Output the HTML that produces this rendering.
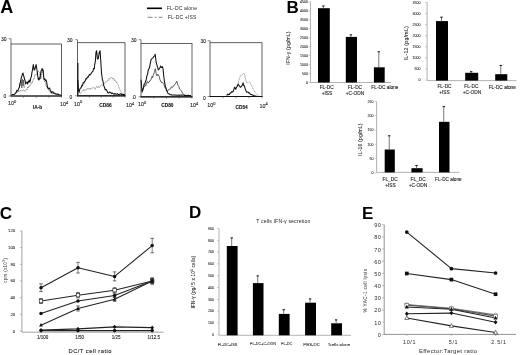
<!DOCTYPE html>
<html><head><meta charset="utf-8"><style>
html,body{margin:0;padding:0;background:#fff;overflow:hidden;width:520px;height:355px;}
svg{display:block;font-family:"Liberation Sans",sans-serif;filter:blur(0.3px);}
</style></head><body>
<svg width="520" height="355" viewBox="0 0 520 355">
<rect width="520" height="355" fill="#fff"/>
<text x="0.30" y="12.60" font-size="18" text-anchor="start" font-weight="bold" fill="#000" >A</text>
<text x="286.60" y="12.50" font-size="17" text-anchor="start" font-weight="bold" fill="#000" >B</text>
<text x="-0.20" y="218.60" font-size="17" text-anchor="start" font-weight="bold" fill="#000" >C</text>
<text x="189.00" y="218.30" font-size="17" text-anchor="start" font-weight="bold" fill="#000" >D</text>
<text x="362.00" y="218.80" font-size="17" text-anchor="start" font-weight="bold" fill="#000" >E</text>
<line x1="147.00" y1="8.30" x2="162.00" y2="8.30" stroke="#000" stroke-width="1.6" />
<text x="166.80" y="9.60" font-size="5.1" text-anchor="start" font-weight="normal" fill="#2a2a2a" letter-spacing="0.15">FL-DC alone</text>
<line x1="147.60" y1="17.30" x2="162.50" y2="17.30" stroke="#666" stroke-width="0.8" stroke-dasharray="5,2,2,2"/>
<text x="167.80" y="19.00" font-size="5.1" text-anchor="start" font-weight="normal" fill="#2a2a2a" letter-spacing="0.1">FL-DC +ISS</text>
<rect x="11" y="44" width="50.5" height="52" fill="none" stroke="#3a3a3a" stroke-width="0.8"/>
<line x1="10.50" y1="96.00" x2="62.00" y2="96.00" stroke="#111" stroke-width="1.2" />
<line x1="11.00" y1="38.70" x2="11.00" y2="44.00" stroke="#444" stroke-width="0.7" />
<line x1="8.50" y1="38.70" x2="11.00" y2="38.70" stroke="#444" stroke-width="0.6" />
<line x1="8.50" y1="96.00" x2="11.00" y2="96.00" stroke="#444" stroke-width="0.6" />
<line x1="23.62" y1="96.00" x2="23.62" y2="97.80" stroke="#444" stroke-width="0.6" />
<line x1="36.25" y1="96.00" x2="36.25" y2="97.80" stroke="#444" stroke-width="0.6" />
<line x1="48.88" y1="96.00" x2="48.88" y2="97.80" stroke="#444" stroke-width="0.6" />
<line x1="61.50" y1="96.00" x2="61.50" y2="97.80" stroke="#444" stroke-width="0.6" />
<text x="1.00" y="41.00" font-size="5" text-anchor="start" font-weight="normal" fill="#111"  stroke="#111" stroke-width="0.08">30</text>
<text x="3.50" y="98.00" font-size="5" text-anchor="start" font-weight="normal" fill="#111"  stroke="#111" stroke-width="0.08">0</text>
<text x="8" y="105" font-size="5.4" fill="#111" stroke="#111" stroke-width="0.08">10<tspan dy="-2.4" font-size="4">0</tspan></text>
<text x="60" y="106" font-size="5.4" fill="#111" stroke="#111" stroke-width="0.08">10<tspan dy="-2.4" font-size="4">4</tspan></text>
<text x="37.50" y="108.60" font-size="4.8" text-anchor="middle" font-weight="bold" fill="#111"  stroke="#111" stroke-width="0.08">IA-b</text>
<rect x="77.5" y="42.7" width="47.5" height="53.099999999999994" fill="none" stroke="#3a3a3a" stroke-width="0.8"/>
<line x1="77.00" y1="95.80" x2="125.50" y2="95.80" stroke="#111" stroke-width="1.2" />
<line x1="77.50" y1="39.70" x2="77.50" y2="42.70" stroke="#444" stroke-width="0.7" />
<line x1="75.00" y1="39.70" x2="77.50" y2="39.70" stroke="#444" stroke-width="0.6" />
<line x1="75.00" y1="95.80" x2="77.50" y2="95.80" stroke="#444" stroke-width="0.6" />
<line x1="89.38" y1="95.80" x2="89.38" y2="97.60" stroke="#444" stroke-width="0.6" />
<line x1="101.25" y1="95.80" x2="101.25" y2="97.60" stroke="#444" stroke-width="0.6" />
<line x1="113.12" y1="95.80" x2="113.12" y2="97.60" stroke="#444" stroke-width="0.6" />
<line x1="125.00" y1="95.80" x2="125.00" y2="97.60" stroke="#444" stroke-width="0.6" />
<text x="67.00" y="42.00" font-size="5" text-anchor="start" font-weight="normal" fill="#111"  stroke="#111" stroke-width="0.08">30</text>
<text x="69.50" y="98.70" font-size="5" text-anchor="start" font-weight="normal" fill="#111"  stroke="#111" stroke-width="0.08">0</text>
<text x="74" y="105.6" font-size="5.4" fill="#111" stroke="#111" stroke-width="0.08">10<tspan dy="-2.4" font-size="4">0</tspan></text>
<text x="126" y="107" font-size="5.4" fill="#111" stroke="#111" stroke-width="0.08">10<tspan dy="-2.4" font-size="4">4</tspan></text>
<text x="105.50" y="107.40" font-size="4.8" text-anchor="middle" font-weight="bold" fill="#111"  stroke="#111" stroke-width="0.08">CD86</text>
<rect x="141" y="43.5" width="51" height="53.3" fill="none" stroke="#3a3a3a" stroke-width="0.8"/>
<line x1="140.50" y1="96.80" x2="192.50" y2="96.80" stroke="#111" stroke-width="1.2" />
<line x1="141.00" y1="39.70" x2="141.00" y2="43.50" stroke="#444" stroke-width="0.7" />
<line x1="138.50" y1="39.70" x2="141.00" y2="39.70" stroke="#444" stroke-width="0.6" />
<line x1="138.50" y1="96.80" x2="141.00" y2="96.80" stroke="#444" stroke-width="0.6" />
<line x1="153.75" y1="96.80" x2="153.75" y2="98.60" stroke="#444" stroke-width="0.6" />
<line x1="166.50" y1="96.80" x2="166.50" y2="98.60" stroke="#444" stroke-width="0.6" />
<line x1="179.25" y1="96.80" x2="179.25" y2="98.60" stroke="#444" stroke-width="0.6" />
<line x1="192.00" y1="96.80" x2="192.00" y2="98.60" stroke="#444" stroke-width="0.6" />
<text x="131.00" y="42.00" font-size="5" text-anchor="start" font-weight="normal" fill="#111"  stroke="#111" stroke-width="0.08">30</text>
<text x="133.00" y="99.00" font-size="5" text-anchor="start" font-weight="normal" fill="#111"  stroke="#111" stroke-width="0.08">0</text>
<text x="138" y="106.3" font-size="5.4" fill="#111" stroke="#111" stroke-width="0.08">10<tspan dy="-2.4" font-size="4">0</tspan></text>
<text x="190" y="107.4" font-size="5.4" fill="#111" stroke="#111" stroke-width="0.08">10<tspan dy="-2.4" font-size="4">4</tspan></text>
<text x="167.40" y="107.40" font-size="4.8" text-anchor="middle" font-weight="bold" fill="#111"  stroke="#111" stroke-width="0.08">CD80</text>
<rect x="210" y="42.7" width="52" height="53.8" fill="none" stroke="#3a3a3a" stroke-width="0.8"/>
<line x1="209.50" y1="96.50" x2="262.50" y2="96.50" stroke="#111" stroke-width="1.2" />
<line x1="210.00" y1="40.70" x2="210.00" y2="42.70" stroke="#444" stroke-width="0.7" />
<line x1="207.50" y1="40.70" x2="210.00" y2="40.70" stroke="#444" stroke-width="0.6" />
<line x1="207.50" y1="96.50" x2="210.00" y2="96.50" stroke="#444" stroke-width="0.6" />
<line x1="223.00" y1="96.50" x2="223.00" y2="98.30" stroke="#444" stroke-width="0.6" />
<line x1="236.00" y1="96.50" x2="236.00" y2="98.30" stroke="#444" stroke-width="0.6" />
<line x1="249.00" y1="96.50" x2="249.00" y2="98.30" stroke="#444" stroke-width="0.6" />
<line x1="262.00" y1="96.50" x2="262.00" y2="98.30" stroke="#444" stroke-width="0.6" />
<text x="200.50" y="43.00" font-size="5" text-anchor="start" font-weight="normal" fill="#111"  stroke="#111" stroke-width="0.08">30</text>
<text x="203.00" y="99.70" font-size="5" text-anchor="start" font-weight="normal" fill="#111"  stroke="#111" stroke-width="0.08">0</text>
<text x="207.2" y="107.1" font-size="5.4" fill="#111" stroke="#111" stroke-width="0.08">10<tspan dy="-2.4" font-size="4">0</tspan></text>
<text x="259.6" y="107.8" font-size="5.4" fill="#111" stroke="#111" stroke-width="0.08">10<tspan dy="-2.4" font-size="4">4</tspan></text>
<text x="241.60" y="108.60" font-size="4.8" text-anchor="middle" font-weight="bold" fill="#111"  stroke="#111" stroke-width="0.08">CD54</text>
<polyline points="13.00,94.80 13.50,94.50 14.00,94.18 14.50,94.31 15.00,94.00 15.57,93.19 16.15,93.24 16.73,92.63 17.30,92.40 17.82,91.55 18.33,92.05 18.85,91.08 19.37,91.55 19.88,90.71 20.40,91.30 20.92,90.24 21.45,90.64 21.98,91.26 22.50,90.30 23.02,89.59 23.55,89.95 24.08,90.95 24.60,90.80 25.12,91.40 25.65,90.19 26.18,89.35 26.70,89.20 27.20,89.64 27.70,86.71 28.20,87.10 28.73,87.63 29.27,85.93 29.80,86.10 30.33,84.55 30.87,83.78 31.40,84.00 31.90,82.51 32.40,82.69 32.90,80.90 33.43,79.07 33.97,78.96 34.50,77.70 35.00,74.50 35.53,74.83 36.07,74.19 36.60,74.50 37.15,73.51 37.70,71.25 38.25,71.20 38.80,71.24 39.35,72.69 39.90,74.50 40.45,77.13 41.00,78.90 41.55,74.33 42.10,70.10 42.65,71.85 43.20,74.50 43.75,78.01 44.30,81.10 44.87,82.09 45.43,82.82 46.00,84.40 46.53,86.57 47.07,87.81 47.60,88.80 48.15,88.92 48.70,90.44 49.25,91.00 49.80,91.61 50.35,92.71 50.90,92.70 51.45,93.17 52.00,92.82 52.55,93.78 53.10,93.04 53.65,93.54 54.20,93.80 54.75,94.15 55.30,93.81 55.85,94.20 56.40,94.05 56.95,94.59 57.50,94.77 58.05,94.80 58.60,94.90 59.20,95.13 59.80,94.98 60.40,95.19 61.00,95.20" fill="none" stroke="#666" stroke-width="0.8" stroke-linejoin="round" stroke-dasharray="1.2,0.6"/>
<polyline points="11.50,94.60 12.00,94.63 12.50,94.57 13.00,94.41 13.50,94.40 14.07,94.46 14.63,94.34 15.20,93.40 15.72,92.70 16.25,92.48 16.77,90.25 17.30,90.80 17.80,90.66 18.30,89.60 18.80,88.20 19.35,87.38 19.90,83.00 20.40,82.56 20.90,79.80 21.45,76.97 22.00,75.70 22.50,73.94 23.00,73.00 23.50,75.46 24.00,76.70 24.60,79.80 25.10,80.18 25.60,84.00 26.15,83.06 26.70,82.40 27.20,82.00 27.70,84.00 28.20,81.57 28.70,81.90 29.23,79.98 29.77,82.20 30.30,80.90 30.85,77.47 31.40,76.70 31.90,72.64 32.40,70.40 33.30,64.60 34.20,70.10 35.00,69.00 35.55,66.41 36.10,64.60 36.80,69.00 37.70,75.60 38.25,79.14 38.80,80.00 39.35,77.94 39.90,78.90 40.45,74.87 41.00,71.20 41.55,70.03 42.10,68.50 42.65,70.68 43.20,70.10 43.75,77.80 44.33,79.50 44.90,78.90 45.45,80.76 46.00,80.00 46.50,81.40 47.00,84.40 47.60,87.70 48.15,87.95 48.70,88.80 49.25,88.04 49.80,88.30 50.35,91.03 50.90,91.00 51.45,92.77 52.00,92.10 52.57,91.73 53.13,92.22 53.70,93.20 54.23,92.98 54.77,93.22 55.30,93.80 55.85,93.91 56.40,94.15 56.95,93.92 57.50,94.30 58.05,93.99 58.60,94.53 59.15,94.65 59.70,94.90 60.35,95.09 61.00,95.20" fill="none" stroke="#111" stroke-width="1.05" stroke-linejoin="round" />
<polyline points="20.50,86.00 21.20,80.00 21.80,88.00 22.40,79.00 23.00,86.00 23.60,80.00 24.20,88.00" fill="none" stroke="#333" stroke-width="0.6" stroke-linejoin="round" />
<line x1="77.80" y1="63.00" x2="77.80" y2="95.50" stroke="#222" stroke-width="1.4" />
<polyline points="79.80,93.60 80.34,93.59 80.88,92.79 81.42,92.00 81.96,91.65 82.50,90.90 83.06,91.00 83.62,89.33 84.18,91.01 84.74,90.45 85.30,89.50 85.86,90.26 86.42,89.93 86.98,88.82 87.54,88.70 88.10,88.80 88.64,87.99 89.18,89.40 89.72,88.17 90.26,88.32 90.80,89.50 91.33,88.45 91.85,87.99 92.38,88.07 92.90,88.10 93.43,87.38 93.95,87.60 94.47,88.31 95.00,89.50 95.53,87.84 96.05,87.77 96.57,86.26 97.10,86.70 97.60,87.77 98.10,87.32 98.60,86.38 99.10,87.40 99.64,86.37 100.18,86.15 100.72,85.75 101.26,84.73 101.80,85.20 102.34,85.76 102.88,85.82 103.42,84.28 103.96,84.04 104.50,83.80 105.06,82.27 105.62,81.77 106.18,81.80 106.74,81.08 107.30,81.10 107.80,81.36 108.30,79.24 108.80,78.38 109.30,79.00 110.00,79.38 110.70,77.60 111.22,78.02 111.75,77.45 112.28,78.75 112.80,79.00 113.30,78.04 113.80,79.42 114.30,80.67 114.80,79.70 115.50,81.27 116.20,81.10 116.90,82.92 117.60,83.80 118.30,85.33 119.00,88.00 119.65,89.03 120.30,90.70 121.00,91.58 121.70,93.50 122.22,93.91 122.75,93.83 123.28,94.18 123.80,94.10 124.40,94.34 125.00,94.80" fill="none" stroke="#777" stroke-width="0.8" stroke-linejoin="round" stroke-dasharray="1.2,0.6"/>
<polyline points="77.80,80.00 78.40,89.50 79.10,92.30 79.80,89.24 80.50,88.10 81.15,87.82 81.80,85.30 82.50,85.70 83.20,82.60 83.90,83.17 84.60,81.20 85.30,80.90 86.00,78.40 86.70,78.85 87.40,77.00 88.10,77.21 88.80,75.70 89.45,74.37 90.10,75.00 90.80,74.01 91.50,72.90 92.20,71.68 92.90,71.50 93.60,68.40 94.30,68.70 94.80,63.55 95.30,61.80 96.00,52.10 96.60,50.80 97.50,59.10 98.40,58.40 98.90,54.46 99.40,52.10 100.10,50.80 100.70,60.00 101.50,72.80 102.40,79.70 102.90,80.88 103.40,83.80 103.95,86.24 104.50,87.30 105.20,89.94 105.90,89.30 106.60,90.17 107.30,91.40 107.80,92.74 108.30,92.99 108.80,93.04 109.30,92.10 109.83,92.16 110.35,92.26 110.88,92.68 111.40,93.50 111.96,93.05 112.52,93.06 113.08,93.69 113.64,94.10 114.20,93.50 114.74,94.11 115.28,93.71 115.82,94.06 116.36,94.34 116.90,94.10 117.41,93.63 117.93,94.28 118.44,94.57 118.95,94.42 119.46,94.39 119.97,94.07 120.49,93.73 121.00,94.10 121.50,94.50 122.00,94.10 122.50,94.66 123.00,94.89 123.50,94.45 124.00,94.54 124.50,95.06 125.00,94.80" fill="none" stroke="#111" stroke-width="1.05" stroke-linejoin="round" />
<polyline points="142.80,89.30 143.30,89.16 143.80,87.16 144.30,86.38 144.80,86.60 145.33,84.71 145.85,85.47 146.38,84.19 146.90,82.40 147.43,81.38 147.95,82.83 148.47,83.03 149.00,81.70 149.50,81.58 150.00,80.34 150.50,80.32 151.00,79.70 151.53,77.76 152.05,76.43 152.57,77.68 153.10,75.50 153.80,73.81 154.50,71.40 155.40,68.70 155.95,72.16 156.50,75.50 157.20,75.89 157.90,74.20 158.60,75.39 159.30,76.90 160.00,79.89 160.70,81.10 161.35,82.53 162.00,82.40 162.70,82.41 163.40,83.80 163.97,84.64 164.53,86.17 165.10,88.10 165.80,88.18 166.50,89.50 167.15,90.40 167.80,90.90 168.50,89.64 169.20,89.50 169.90,88.96 170.60,88.80 171.30,86.86 172.00,86.70 172.70,87.33 173.40,86.00 174.10,85.00 174.80,84.70 175.45,83.55 176.10,82.60 176.80,81.20 177.50,84.00 178.20,85.55 178.90,86.70 179.60,89.07 180.30,89.50 181.00,90.38 181.70,91.60 182.40,93.17 183.10,93.60 183.75,94.30 184.40,95.00" fill="none" stroke="#333" stroke-width="0.8" stroke-linejoin="round" />
<polyline points="141.00,79.70 141.55,86.01 142.10,92.10 142.75,90.13 143.40,88.00 144.10,84.17 144.80,83.80 145.50,81.53 146.20,79.70 146.90,75.81 147.60,74.20 148.30,69.66 149.00,68.70 149.65,67.03 150.30,63.20 151.00,59.92 151.70,59.00 152.40,58.20 153.10,57.60 154.00,56.30 154.60,56.06 155.20,54.20 156.10,61.80 156.65,64.05 157.20,65.90 157.70,67.32 158.20,70.00 158.75,69.42 159.30,68.70 160.00,67.50 160.70,65.90 161.35,67.62 162.00,67.30 162.50,66.58 163.00,68.70 163.70,75.70 164.40,81.20 164.95,84.17 165.50,86.70 166.00,87.89 166.50,90.90 167.15,91.41 167.80,93.00 168.33,93.76 168.85,93.66 169.38,94.05 169.90,94.30 170.46,94.68 171.02,94.93 171.58,94.68 172.14,94.94 172.70,95.00 173.21,95.01 173.72,95.03 174.23,95.14 174.74,95.01 175.25,95.07 175.76,95.05 176.27,95.32 176.78,95.19 177.29,95.30 177.81,95.34 178.32,94.99 178.83,95.16 179.34,95.37 179.85,95.32 180.36,94.97 180.87,94.98 181.38,95.15 181.89,94.98 182.40,95.20 182.91,95.10 183.41,95.04 183.92,95.33 184.42,95.39 184.93,95.46 185.44,95.16 185.94,95.41 186.45,95.40 186.95,95.22 187.46,95.52 187.96,95.56 188.47,95.31 188.98,95.58 189.48,95.41 189.99,95.46 190.49,95.63 191.00,95.50" fill="none" stroke="#111" stroke-width="1.05" stroke-linejoin="round" />
<polyline points="238.00,85.40 238.90,79.90 239.40,79.30 239.90,77.10 240.60,75.34 241.30,75.20 242.00,74.59 242.70,74.30 243.40,73.64 244.10,72.90 245.00,76.20 245.90,80.80 246.80,83.10 247.30,82.51 247.80,82.70 248.70,81.70 249.60,82.20 250.30,82.62 251.00,84.50 251.70,85.46 252.40,87.30 253.10,89.23 253.80,90.10 254.50,90.64 255.20,92.90 255.83,93.55 256.47,94.05 257.10,94.70 257.73,94.89 258.37,95.40 259.00,95.80" fill="none" stroke="#888" stroke-width="0.8" stroke-linejoin="round" stroke-dasharray="1.2,0.6"/>
<polyline points="226.40,95.20 226.93,95.04 227.45,94.73 227.97,94.09 228.50,94.76 229.03,94.36 229.55,94.40 230.07,92.95 230.60,93.30 231.20,92.43 231.80,91.45 232.40,92.00 233.10,91.67 233.80,89.60 234.30,87.62 234.80,87.30 235.70,89.20 236.60,87.30 237.50,85.90 238.00,84.12 238.50,85.00 239.40,85.90 240.30,87.30 240.80,86.77 241.30,86.80 242.20,85.40 243.10,82.70 243.60,85.53 244.10,85.40 245.00,88.20 245.90,90.60 246.60,92.20 247.30,92.00 248.00,91.94 248.70,92.90 249.40,92.79 250.10,93.80 250.73,94.58 251.37,94.47 252.00,94.70 252.60,95.15 253.20,95.21 253.80,95.70 254.36,95.75 254.92,95.91 255.48,96.00 256.04,96.13 256.60,96.20" fill="none" stroke="#111" stroke-width="1.05" stroke-linejoin="round" />
<line x1="310.50" y1="1.80" x2="310.50" y2="82.50" stroke="#aaa" stroke-width="0.9" />
<line x1="310.50" y1="82.50" x2="391.00" y2="82.50" stroke="#aaa" stroke-width="0.9" />
<line x1="308.50" y1="82.30" x2="310.50" y2="82.30" stroke="#aaa" stroke-width="0.6" />
<text x="308.00" y="83.56" font-size="3.6" text-anchor="end" font-weight="normal" fill="#1a1a1a"  stroke="#1a1a1a" stroke-width="0.05">0</text>
<line x1="308.50" y1="73.36" x2="310.50" y2="73.36" stroke="#aaa" stroke-width="0.6" />
<text x="308.00" y="74.62" font-size="3.6" text-anchor="end" font-weight="normal" fill="#1a1a1a"  stroke="#1a1a1a" stroke-width="0.05">500</text>
<line x1="308.50" y1="64.42" x2="310.50" y2="64.42" stroke="#aaa" stroke-width="0.6" />
<text x="308.00" y="65.68" font-size="3.6" text-anchor="end" font-weight="normal" fill="#1a1a1a"  stroke="#1a1a1a" stroke-width="0.05">1000</text>
<line x1="308.50" y1="55.48" x2="310.50" y2="55.48" stroke="#aaa" stroke-width="0.6" />
<text x="308.00" y="56.74" font-size="3.6" text-anchor="end" font-weight="normal" fill="#1a1a1a"  stroke="#1a1a1a" stroke-width="0.05">1500</text>
<line x1="308.50" y1="46.54" x2="310.50" y2="46.54" stroke="#aaa" stroke-width="0.6" />
<text x="308.00" y="47.80" font-size="3.6" text-anchor="end" font-weight="normal" fill="#1a1a1a"  stroke="#1a1a1a" stroke-width="0.05">2000</text>
<line x1="308.50" y1="37.60" x2="310.50" y2="37.60" stroke="#aaa" stroke-width="0.6" />
<text x="308.00" y="38.86" font-size="3.6" text-anchor="end" font-weight="normal" fill="#1a1a1a"  stroke="#1a1a1a" stroke-width="0.05">2500</text>
<line x1="308.50" y1="28.66" x2="310.50" y2="28.66" stroke="#aaa" stroke-width="0.6" />
<text x="308.00" y="29.92" font-size="3.6" text-anchor="end" font-weight="normal" fill="#1a1a1a"  stroke="#1a1a1a" stroke-width="0.05">3000</text>
<line x1="308.50" y1="19.72" x2="310.50" y2="19.72" stroke="#aaa" stroke-width="0.6" />
<text x="308.00" y="20.98" font-size="3.6" text-anchor="end" font-weight="normal" fill="#1a1a1a"  stroke="#1a1a1a" stroke-width="0.05">3500</text>
<line x1="308.50" y1="10.78" x2="310.50" y2="10.78" stroke="#aaa" stroke-width="0.6" />
<text x="308.00" y="12.04" font-size="3.6" text-anchor="end" font-weight="normal" fill="#1a1a1a"  stroke="#1a1a1a" stroke-width="0.05">4000</text>
<line x1="308.50" y1="1.84" x2="310.50" y2="1.84" stroke="#aaa" stroke-width="0.6" />
<text x="308.00" y="3.10" font-size="3.6" text-anchor="end" font-weight="normal" fill="#1a1a1a"  stroke="#1a1a1a" stroke-width="0.05">4500</text>
<rect x="318.00" y="8.20" width="11.80" height="74.30" fill="#000" stroke="none" stroke-width="0"/>
<line x1="323.40" y1="5.70" x2="323.40" y2="8.20" stroke="#555" stroke-width="0.8" />
<line x1="322.20" y1="6.00" x2="324.60" y2="6.00" stroke="#222" stroke-width="1.1" />
<rect x="345.80" y="36.90" width="11.20" height="45.60" fill="#000" stroke="none" stroke-width="0"/>
<line x1="350.90" y1="34.60" x2="350.90" y2="36.90" stroke="#555" stroke-width="0.8" />
<line x1="349.70" y1="34.90" x2="352.10" y2="34.90" stroke="#222" stroke-width="1.1" />
<rect x="373.90" y="67.30" width="10.80" height="15.20" fill="#000" stroke="none" stroke-width="0"/>
<line x1="378.80" y1="51.50" x2="378.80" y2="67.30" stroke="#555" stroke-width="0.8" />
<line x1="377.60" y1="51.80" x2="380.00" y2="51.80" stroke="#222" stroke-width="1.1" />
<text transform="translate(290.40,48.00) rotate(-90)" font-size="5.0" text-anchor="middle" fill="#111" stroke="#111" stroke-width="0.05" letter-spacing="0.2">IFN-γ (pg/mL)</text>
<text x="326.70" y="89.10" font-size="4.8" text-anchor="middle" font-weight="normal" fill="#111"  stroke="#111" stroke-width="0.08">FL-DC</text>
<text x="326.90" y="95.20" font-size="4.8" text-anchor="middle" font-weight="normal" fill="#111"  stroke="#111" stroke-width="0.08">+ISS</text>
<text x="355.00" y="88.80" font-size="4.8" text-anchor="middle" font-weight="normal" fill="#111"  stroke="#111" stroke-width="0.08">FL-DC</text>
<text x="355.00" y="95.00" font-size="4.8" text-anchor="middle" font-weight="normal" fill="#111"  stroke="#111" stroke-width="0.08">+C-ODN</text>
<text x="384.90" y="89.30" font-size="4.8" text-anchor="middle" font-weight="normal" fill="#111"  stroke="#111" stroke-width="0.08">FL-DC alone</text>
<line x1="427.10" y1="2.40" x2="427.10" y2="80.60" stroke="#aaa" stroke-width="0.9" />
<line x1="427.10" y1="80.60" x2="516.40" y2="80.60" stroke="#aaa" stroke-width="0.9" />
<line x1="425.10" y1="80.10" x2="427.10" y2="80.10" stroke="#aaa" stroke-width="0.6" />
<text x="420.50" y="81.36" font-size="3.6" text-anchor="end" font-weight="normal" fill="#1a1a1a"  stroke="#1a1a1a" stroke-width="0.05">0</text>
<line x1="425.10" y1="69.00" x2="427.10" y2="69.00" stroke="#aaa" stroke-width="0.6" />
<text x="420.50" y="70.26" font-size="3.6" text-anchor="end" font-weight="normal" fill="#1a1a1a"  stroke="#1a1a1a" stroke-width="0.05">500</text>
<line x1="425.10" y1="57.90" x2="427.10" y2="57.90" stroke="#aaa" stroke-width="0.6" />
<text x="420.50" y="59.16" font-size="3.6" text-anchor="end" font-weight="normal" fill="#1a1a1a"  stroke="#1a1a1a" stroke-width="0.05">1000</text>
<line x1="425.10" y1="46.80" x2="427.10" y2="46.80" stroke="#aaa" stroke-width="0.6" />
<text x="420.50" y="48.06" font-size="3.6" text-anchor="end" font-weight="normal" fill="#1a1a1a"  stroke="#1a1a1a" stroke-width="0.05">1500</text>
<line x1="425.10" y1="35.70" x2="427.10" y2="35.70" stroke="#aaa" stroke-width="0.6" />
<text x="420.50" y="36.96" font-size="3.6" text-anchor="end" font-weight="normal" fill="#1a1a1a"  stroke="#1a1a1a" stroke-width="0.05">2000</text>
<line x1="425.10" y1="24.60" x2="427.10" y2="24.60" stroke="#aaa" stroke-width="0.6" />
<text x="420.50" y="25.86" font-size="3.6" text-anchor="end" font-weight="normal" fill="#1a1a1a"  stroke="#1a1a1a" stroke-width="0.05">2500</text>
<line x1="425.10" y1="13.50" x2="427.10" y2="13.50" stroke="#aaa" stroke-width="0.6" />
<text x="420.50" y="14.76" font-size="3.6" text-anchor="end" font-weight="normal" fill="#1a1a1a"  stroke="#1a1a1a" stroke-width="0.05">3000</text>
<line x1="425.10" y1="2.40" x2="427.10" y2="2.40" stroke="#aaa" stroke-width="0.6" />
<text x="420.50" y="3.66" font-size="3.6" text-anchor="end" font-weight="normal" fill="#1a1a1a"  stroke="#1a1a1a" stroke-width="0.05">3500</text>
<rect x="436.00" y="21.10" width="12.00" height="59.50" fill="#000" stroke="none" stroke-width="0"/>
<line x1="441.50" y1="16.90" x2="441.50" y2="21.10" stroke="#555" stroke-width="0.8" />
<line x1="440.30" y1="17.20" x2="442.70" y2="17.20" stroke="#222" stroke-width="1.1" />
<rect x="465.20" y="72.80" width="13.00" height="7.80" fill="#000" stroke="none" stroke-width="0"/>
<line x1="471.20" y1="71.40" x2="471.20" y2="72.80" stroke="#555" stroke-width="0.8" />
<line x1="470.00" y1="71.70" x2="472.40" y2="71.70" stroke="#222" stroke-width="1.1" />
<rect x="495.20" y="74.20" width="12.10" height="6.40" fill="#000" stroke="none" stroke-width="0"/>
<line x1="500.75" y1="65.20" x2="500.75" y2="74.20" stroke="#555" stroke-width="0.8" />
<line x1="499.55" y1="65.50" x2="501.95" y2="65.50" stroke="#222" stroke-width="1.1" />
<text transform="translate(407.80,43.20) rotate(-90)" font-size="5.3" text-anchor="middle" fill="#111" stroke="#111" stroke-width="0.05" letter-spacing="0.2">IL-12 (pg/mL)</text>
<text x="444.50" y="88.40" font-size="4.8" text-anchor="middle" font-weight="normal" fill="#111"  stroke="#111" stroke-width="0.08">FL-DC</text>
<text x="444.40" y="94.10" font-size="4.8" text-anchor="middle" font-weight="normal" fill="#111"  stroke="#111" stroke-width="0.08">+ISS</text>
<text x="471.30" y="88.40" font-size="4.8" text-anchor="middle" font-weight="normal" fill="#111"  stroke="#111" stroke-width="0.08">FL-DC</text>
<text x="472.00" y="94.10" font-size="4.8" text-anchor="middle" font-weight="normal" fill="#111"  stroke="#111" stroke-width="0.08">+C-ODN</text>
<text x="502.30" y="89.00" font-size="4.8" text-anchor="middle" font-weight="normal" fill="#111"  stroke="#111" stroke-width="0.08">FL-DC alone</text>
<line x1="376.60" y1="101.40" x2="376.60" y2="172.40" stroke="#aaa" stroke-width="0.9" />
<line x1="376.60" y1="172.40" x2="459.20" y2="172.40" stroke="#aaa" stroke-width="0.9" />
<line x1="374.60" y1="173.00" x2="376.60" y2="173.00" stroke="#aaa" stroke-width="0.6" />
<text x="373.60" y="174.26" font-size="3.6" text-anchor="end" font-weight="normal" fill="#1a1a1a"  stroke="#1a1a1a" stroke-width="0.05">0</text>
<line x1="374.60" y1="158.65" x2="376.60" y2="158.65" stroke="#aaa" stroke-width="0.6" />
<text x="373.60" y="159.91" font-size="3.6" text-anchor="end" font-weight="normal" fill="#1a1a1a"  stroke="#1a1a1a" stroke-width="0.05">50</text>
<line x1="374.60" y1="144.30" x2="376.60" y2="144.30" stroke="#aaa" stroke-width="0.6" />
<text x="373.60" y="145.56" font-size="3.6" text-anchor="end" font-weight="normal" fill="#1a1a1a"  stroke="#1a1a1a" stroke-width="0.05">100</text>
<line x1="374.60" y1="129.95" x2="376.60" y2="129.95" stroke="#aaa" stroke-width="0.6" />
<text x="373.60" y="131.21" font-size="3.6" text-anchor="end" font-weight="normal" fill="#1a1a1a"  stroke="#1a1a1a" stroke-width="0.05">150</text>
<line x1="374.60" y1="115.60" x2="376.60" y2="115.60" stroke="#aaa" stroke-width="0.6" />
<text x="373.60" y="116.86" font-size="3.6" text-anchor="end" font-weight="normal" fill="#1a1a1a"  stroke="#1a1a1a" stroke-width="0.05">200</text>
<line x1="374.60" y1="101.25" x2="376.60" y2="101.25" stroke="#aaa" stroke-width="0.6" />
<text x="373.60" y="102.51" font-size="3.6" text-anchor="end" font-weight="normal" fill="#1a1a1a"  stroke="#1a1a1a" stroke-width="0.05">250</text>
<rect x="384.70" y="149.50" width="10.10" height="22.90" fill="#000" stroke="none" stroke-width="0"/>
<line x1="389.25" y1="135.50" x2="389.25" y2="149.50" stroke="#555" stroke-width="0.8" />
<line x1="388.05" y1="135.80" x2="390.45" y2="135.80" stroke="#222" stroke-width="1.1" />
<rect x="411.40" y="168.20" width="11.20" height="4.20" fill="#000" stroke="none" stroke-width="0"/>
<line x1="416.50" y1="165.20" x2="416.50" y2="168.20" stroke="#555" stroke-width="0.8" />
<line x1="415.30" y1="165.50" x2="417.70" y2="165.50" stroke="#222" stroke-width="1.1" />
<rect x="439.00" y="121.80" width="10.50" height="50.60" fill="#000" stroke="none" stroke-width="0"/>
<line x1="443.75" y1="106.30" x2="443.75" y2="121.80" stroke="#555" stroke-width="0.8" />
<line x1="442.55" y1="106.60" x2="444.95" y2="106.60" stroke="#222" stroke-width="1.1" />
<text transform="translate(362.30,139.60) rotate(-90)" font-size="5.0" text-anchor="middle" fill="#111" stroke="#111" stroke-width="0.05" letter-spacing="0.2">IL-10 (pg/mL)</text>
<text x="390.10" y="180.70" font-size="4.8" text-anchor="middle" font-weight="normal" fill="#111"  stroke="#111" stroke-width="0.08">FL_DC</text>
<text x="390.50" y="186.50" font-size="4.8" text-anchor="middle" font-weight="normal" fill="#111"  stroke="#111" stroke-width="0.08">+ISS</text>
<text x="418.10" y="180.70" font-size="4.8" text-anchor="middle" font-weight="normal" fill="#111"  stroke="#111" stroke-width="0.08">FL_DC</text>
<text x="418.00" y="186.50" font-size="4.8" text-anchor="middle" font-weight="normal" fill="#111"  stroke="#111" stroke-width="0.08">+C-ODN</text>
<text x="448.40" y="181.10" font-size="4.7" text-anchor="middle" font-weight="normal" fill="#111"  stroke="#111" stroke-width="0.08">FL-DC alone</text>
<line x1="219.00" y1="228.50" x2="219.00" y2="335.30" stroke="#aaa" stroke-width="0.9" />
<line x1="219.00" y1="335.30" x2="351.00" y2="335.30" stroke="#aaa" stroke-width="0.9" />
<line x1="217.00" y1="334.70" x2="219.00" y2="334.70" stroke="#aaa" stroke-width="0.6" />
<text x="214.00" y="335.96" font-size="3.6" text-anchor="end" font-weight="normal" fill="#1a1a1a"  stroke="#1a1a1a" stroke-width="0.05">0</text>
<line x1="217.00" y1="322.90" x2="219.00" y2="322.90" stroke="#aaa" stroke-width="0.6" />
<text x="214.00" y="324.16" font-size="3.6" text-anchor="end" font-weight="normal" fill="#1a1a1a"  stroke="#1a1a1a" stroke-width="0.05">100</text>
<line x1="217.00" y1="311.10" x2="219.00" y2="311.10" stroke="#aaa" stroke-width="0.6" />
<text x="214.00" y="312.36" font-size="3.6" text-anchor="end" font-weight="normal" fill="#1a1a1a"  stroke="#1a1a1a" stroke-width="0.05">200</text>
<line x1="217.00" y1="299.30" x2="219.00" y2="299.30" stroke="#aaa" stroke-width="0.6" />
<text x="214.00" y="300.56" font-size="3.6" text-anchor="end" font-weight="normal" fill="#1a1a1a"  stroke="#1a1a1a" stroke-width="0.05">300</text>
<line x1="217.00" y1="287.50" x2="219.00" y2="287.50" stroke="#aaa" stroke-width="0.6" />
<text x="214.00" y="288.76" font-size="3.6" text-anchor="end" font-weight="normal" fill="#1a1a1a"  stroke="#1a1a1a" stroke-width="0.05">400</text>
<line x1="217.00" y1="275.70" x2="219.00" y2="275.70" stroke="#aaa" stroke-width="0.6" />
<text x="214.00" y="276.96" font-size="3.6" text-anchor="end" font-weight="normal" fill="#1a1a1a"  stroke="#1a1a1a" stroke-width="0.05">500</text>
<line x1="217.00" y1="263.90" x2="219.00" y2="263.90" stroke="#aaa" stroke-width="0.6" />
<text x="214.00" y="265.16" font-size="3.6" text-anchor="end" font-weight="normal" fill="#1a1a1a"  stroke="#1a1a1a" stroke-width="0.05">600</text>
<line x1="217.00" y1="252.10" x2="219.00" y2="252.10" stroke="#aaa" stroke-width="0.6" />
<text x="214.00" y="253.36" font-size="3.6" text-anchor="end" font-weight="normal" fill="#1a1a1a"  stroke="#1a1a1a" stroke-width="0.05">700</text>
<line x1="217.00" y1="240.30" x2="219.00" y2="240.30" stroke="#aaa" stroke-width="0.6" />
<text x="214.00" y="241.56" font-size="3.6" text-anchor="end" font-weight="normal" fill="#1a1a1a"  stroke="#1a1a1a" stroke-width="0.05">800</text>
<line x1="217.00" y1="228.50" x2="219.00" y2="228.50" stroke="#aaa" stroke-width="0.6" />
<text x="214.00" y="229.76" font-size="3.6" text-anchor="end" font-weight="normal" fill="#1a1a1a"  stroke="#1a1a1a" stroke-width="0.05">900</text>
<rect x="226.80" y="246.00" width="10.80" height="89.30" fill="#000" stroke="none" stroke-width="0"/>
<line x1="231.70" y1="237.60" x2="231.70" y2="246.00" stroke="#555" stroke-width="0.8" />
<line x1="230.50" y1="237.90" x2="232.90" y2="237.90" stroke="#222" stroke-width="1.1" />
<rect x="252.90" y="283.10" width="10.60" height="52.20" fill="#000" stroke="none" stroke-width="0"/>
<line x1="257.70" y1="275.60" x2="257.70" y2="283.10" stroke="#555" stroke-width="0.8" />
<line x1="256.50" y1="275.90" x2="258.90" y2="275.90" stroke="#222" stroke-width="1.1" />
<rect x="278.80" y="313.90" width="10.80" height="21.40" fill="#000" stroke="none" stroke-width="0"/>
<line x1="283.70" y1="309.40" x2="283.70" y2="313.90" stroke="#555" stroke-width="0.8" />
<line x1="282.50" y1="309.70" x2="284.90" y2="309.70" stroke="#222" stroke-width="1.1" />
<rect x="305.10" y="302.70" width="10.90" height="32.60" fill="#000" stroke="none" stroke-width="0"/>
<line x1="310.05" y1="298.60" x2="310.05" y2="302.70" stroke="#555" stroke-width="0.8" />
<line x1="308.85" y1="298.90" x2="311.25" y2="298.90" stroke="#222" stroke-width="1.1" />
<rect x="331.20" y="323.30" width="10.80" height="12.00" fill="#000" stroke="none" stroke-width="0"/>
<line x1="336.10" y1="319.60" x2="336.10" y2="323.30" stroke="#555" stroke-width="0.8" />
<line x1="334.90" y1="319.90" x2="337.30" y2="319.90" stroke="#222" stroke-width="1.1" />
<text transform="translate(194.80,282.00) rotate(-90)" font-size="4.6" text-anchor="middle" fill="#111" stroke="#111" stroke-width="0.05" letter-spacing="0.2">IFN-γ (pg/ 5 x 10<tspan dy="-1.7" font-size="3.4">5</tspan><tspan dy="1.7"> cells)</tspan></text>
<text x="227.60" y="345.60" font-size="3.8" text-anchor="middle" font-weight="normal" fill="#1a1a1a"  stroke="#1a1a1a" stroke-width="0.05">FL-DC+ISS</text>
<text x="263.00" y="345.00" font-size="3.8" text-anchor="middle" font-weight="normal" fill="#1a1a1a"  stroke="#1a1a1a" stroke-width="0.05">FL-DC+C-ODN</text>
<text x="286.70" y="345.20" font-size="3.8" text-anchor="middle" font-weight="normal" fill="#1a1a1a"  stroke="#1a1a1a" stroke-width="0.05">FL-DC</text>
<text x="311.60" y="345.90" font-size="4.4" text-anchor="middle" font-weight="normal" fill="#1a1a1a"  stroke="#1a1a1a" stroke-width="0.05">PBS-DC</text>
<text x="338.90" y="346.20" font-size="4.3" text-anchor="middle" font-weight="normal" fill="#1a1a1a"  stroke="#1a1a1a" stroke-width="0.05">Tcells alone</text>
<text x="283.40" y="223.10" font-size="5.2" text-anchor="middle" font-weight="normal" fill="#2a2a2a" letter-spacing="0.12">T cells IFN-γ secretion</text>
<line x1="21.90" y1="231.00" x2="21.90" y2="332.20" stroke="#999" stroke-width="0.9" />
<line x1="21.90" y1="332.20" x2="163.70" y2="332.20" stroke="#999" stroke-width="0.9" />
<line x1="19.90" y1="331.00" x2="21.90" y2="331.00" stroke="#777" stroke-width="0.5" />
<text x="15.20" y="332.50" font-size="4.3" text-anchor="end" font-weight="normal" fill="#1a1a1a"  stroke="#1a1a1a" stroke-width="0.05">0</text>
<line x1="19.90" y1="314.33" x2="21.90" y2="314.33" stroke="#777" stroke-width="0.5" />
<text x="15.20" y="315.83" font-size="4.3" text-anchor="end" font-weight="normal" fill="#1a1a1a"  stroke="#1a1a1a" stroke-width="0.05">20</text>
<line x1="19.90" y1="297.66" x2="21.90" y2="297.66" stroke="#777" stroke-width="0.5" />
<text x="15.20" y="299.16" font-size="4.3" text-anchor="end" font-weight="normal" fill="#1a1a1a"  stroke="#1a1a1a" stroke-width="0.05">40</text>
<line x1="19.90" y1="280.99" x2="21.90" y2="280.99" stroke="#777" stroke-width="0.5" />
<text x="15.20" y="282.49" font-size="4.3" text-anchor="end" font-weight="normal" fill="#1a1a1a"  stroke="#1a1a1a" stroke-width="0.05">60</text>
<line x1="19.90" y1="264.32" x2="21.90" y2="264.32" stroke="#777" stroke-width="0.5" />
<text x="15.20" y="265.82" font-size="4.3" text-anchor="end" font-weight="normal" fill="#1a1a1a"  stroke="#1a1a1a" stroke-width="0.05">80</text>
<line x1="19.90" y1="247.65" x2="21.90" y2="247.65" stroke="#777" stroke-width="0.5" />
<text x="15.20" y="249.15" font-size="4.3" text-anchor="end" font-weight="normal" fill="#1a1a1a"  stroke="#1a1a1a" stroke-width="0.05">100</text>
<line x1="19.90" y1="230.98" x2="21.90" y2="230.98" stroke="#777" stroke-width="0.5" />
<text x="15.20" y="232.48" font-size="4.3" text-anchor="end" font-weight="normal" fill="#1a1a1a"  stroke="#1a1a1a" stroke-width="0.05">120</text>
<line x1="41.00" y1="332.20" x2="41.00" y2="333.70" stroke="#777" stroke-width="0.5" />
<text x="42.60" y="339.00" font-size="4.5" text-anchor="middle" font-weight="normal" fill="#111"  stroke="#111" stroke-width="0.08">1/100</text>
<line x1="78.00" y1="332.20" x2="78.00" y2="333.70" stroke="#777" stroke-width="0.5" />
<text x="79.60" y="339.00" font-size="4.5" text-anchor="middle" font-weight="normal" fill="#111"  stroke="#111" stroke-width="0.08">1/50</text>
<line x1="114.60" y1="332.20" x2="114.60" y2="333.70" stroke="#777" stroke-width="0.5" />
<text x="116.20" y="339.00" font-size="4.5" text-anchor="middle" font-weight="normal" fill="#111"  stroke="#111" stroke-width="0.08">1/25</text>
<line x1="152.20" y1="332.20" x2="152.20" y2="333.70" stroke="#777" stroke-width="0.5" />
<text x="153.80" y="339.00" font-size="4.5" text-anchor="middle" font-weight="normal" fill="#111"  stroke="#111" stroke-width="0.08">1/12.5</text>
<text x="90.20" y="352.50" font-size="5.8" text-anchor="middle" font-weight="normal" fill="#111" letter-spacing="0.45" stroke="#111" stroke-width="0.08">DC/T cell ratio</text>
<text transform="translate(7.0,270.3) rotate(-90)" font-size="4.5" text-anchor="middle" fill="#333" letter-spacing="0.3">cpm (x10<tspan dy="-2.2" font-size="3.6">3</tspan><tspan dy="2.2">)</tspan></text>
<polyline points="41.00,287.67 78.00,267.67 114.60,276.42 152.20,245.59" fill="none" stroke="#222" stroke-width="1.1" stroke-linejoin="round" />
<polyline points="41.00,301.00 78.00,295.17 114.60,290.17 152.20,281.00" fill="none" stroke="#222" stroke-width="1.1" stroke-linejoin="round" />
<polyline points="41.00,313.50 78.00,301.00 114.60,295.58 152.20,281.00" fill="none" stroke="#222" stroke-width="1.1" stroke-linejoin="round" />
<polyline points="41.00,325.17 78.00,308.50 114.60,299.33 152.20,281.00" fill="none" stroke="#222" stroke-width="1.1" stroke-linejoin="round" />
<polyline points="41.00,330.17 78.00,328.92 114.60,326.83 152.20,327.67" fill="none" stroke="#222" stroke-width="1.1" stroke-linejoin="round" />
<polyline points="41.00,330.58 78.00,330.58 114.60,330.58 152.20,330.58" fill="none" stroke="#222" stroke-width="1.1" stroke-linejoin="round" />
<line x1="41.00" y1="283.87" x2="41.00" y2="291.47" stroke="#333" stroke-width="0.6" />
<line x1="39.20" y1="283.87" x2="42.80" y2="283.87" stroke="#333" stroke-width="0.7" />
<line x1="39.20" y1="291.47" x2="42.80" y2="291.47" stroke="#333" stroke-width="0.7" />
<circle cx="41.00" cy="287.67" r="1.75" fill="#111"/>
<line x1="78.00" y1="262.37" x2="78.00" y2="272.97" stroke="#333" stroke-width="0.6" />
<line x1="76.20" y1="262.37" x2="79.80" y2="262.37" stroke="#333" stroke-width="0.7" />
<line x1="76.20" y1="272.97" x2="79.80" y2="272.97" stroke="#333" stroke-width="0.7" />
<circle cx="78.00" cy="267.67" r="1.75" fill="#111"/>
<line x1="114.60" y1="271.92" x2="114.60" y2="280.92" stroke="#333" stroke-width="0.6" />
<line x1="112.80" y1="271.92" x2="116.40" y2="271.92" stroke="#333" stroke-width="0.7" />
<line x1="112.80" y1="280.92" x2="116.40" y2="280.92" stroke="#333" stroke-width="0.7" />
<circle cx="114.60" cy="276.42" r="1.75" fill="#111"/>
<line x1="152.20" y1="238.39" x2="152.20" y2="252.79" stroke="#333" stroke-width="0.6" />
<line x1="150.40" y1="238.39" x2="154.00" y2="238.39" stroke="#333" stroke-width="0.7" />
<line x1="150.40" y1="252.79" x2="154.00" y2="252.79" stroke="#333" stroke-width="0.7" />
<circle cx="152.20" cy="245.59" r="1.75" fill="#111"/>
<line x1="41.00" y1="298.50" x2="41.00" y2="303.50" stroke="#333" stroke-width="0.6" />
<line x1="39.20" y1="298.50" x2="42.80" y2="298.50" stroke="#333" stroke-width="0.7" />
<line x1="39.20" y1="303.50" x2="42.80" y2="303.50" stroke="#333" stroke-width="0.7" />
<rect x="39.25" y="299.25" width="3.50" height="3.50" fill="#fff" stroke="#111" stroke-width="0.6"/>
<line x1="78.00" y1="292.47" x2="78.00" y2="297.87" stroke="#333" stroke-width="0.6" />
<line x1="76.20" y1="292.47" x2="79.80" y2="292.47" stroke="#333" stroke-width="0.7" />
<line x1="76.20" y1="297.87" x2="79.80" y2="297.87" stroke="#333" stroke-width="0.7" />
<rect x="76.25" y="293.42" width="3.50" height="3.50" fill="#fff" stroke="#111" stroke-width="0.6"/>
<line x1="114.60" y1="287.67" x2="114.60" y2="292.67" stroke="#333" stroke-width="0.6" />
<line x1="112.80" y1="287.67" x2="116.40" y2="287.67" stroke="#333" stroke-width="0.7" />
<line x1="112.80" y1="292.67" x2="116.40" y2="292.67" stroke="#333" stroke-width="0.7" />
<rect x="112.85" y="288.42" width="3.50" height="3.50" fill="#fff" stroke="#111" stroke-width="0.6"/>
<line x1="152.20" y1="278.00" x2="152.20" y2="284.00" stroke="#333" stroke-width="0.6" />
<line x1="150.40" y1="278.00" x2="154.00" y2="278.00" stroke="#333" stroke-width="0.7" />
<line x1="150.40" y1="284.00" x2="154.00" y2="284.00" stroke="#333" stroke-width="0.7" />
<rect x="150.45" y="279.25" width="3.50" height="3.50" fill="#fff" stroke="#111" stroke-width="0.6"/>
<circle cx="41.00" cy="313.50" r="1.75" fill="#111"/>
<circle cx="78.00" cy="301.00" r="1.75" fill="#111"/>
<line x1="114.60" y1="293.78" x2="114.60" y2="297.38" stroke="#333" stroke-width="0.6" />
<line x1="112.80" y1="293.78" x2="116.40" y2="293.78" stroke="#333" stroke-width="0.7" />
<line x1="112.80" y1="297.38" x2="116.40" y2="297.38" stroke="#333" stroke-width="0.7" />
<circle cx="114.60" cy="295.58" r="1.75" fill="#111"/>
<line x1="152.20" y1="278.50" x2="152.20" y2="283.50" stroke="#333" stroke-width="0.6" />
<line x1="150.40" y1="278.50" x2="154.00" y2="278.50" stroke="#333" stroke-width="0.7" />
<line x1="150.40" y1="283.50" x2="154.00" y2="283.50" stroke="#333" stroke-width="0.7" />
<circle cx="152.20" cy="281.00" r="1.75" fill="#111"/>
<polygon points="41.00,323.07 42.92,326.57 39.08,326.57" fill="#111"/>
<line x1="78.00" y1="306.00" x2="78.00" y2="311.00" stroke="#333" stroke-width="0.6" />
<line x1="76.20" y1="306.00" x2="79.80" y2="306.00" stroke="#333" stroke-width="0.7" />
<line x1="76.20" y1="311.00" x2="79.80" y2="311.00" stroke="#333" stroke-width="0.7" />
<polygon points="78.00,306.40 79.92,309.90 76.08,309.90" fill="#111"/>
<line x1="114.60" y1="297.33" x2="114.60" y2="301.33" stroke="#333" stroke-width="0.6" />
<line x1="112.80" y1="297.33" x2="116.40" y2="297.33" stroke="#333" stroke-width="0.7" />
<line x1="112.80" y1="301.33" x2="116.40" y2="301.33" stroke="#333" stroke-width="0.7" />
<polygon points="114.60,297.23 116.52,300.73 112.67,300.73" fill="#111"/>
<line x1="152.20" y1="278.00" x2="152.20" y2="284.00" stroke="#333" stroke-width="0.6" />
<line x1="150.40" y1="278.00" x2="154.00" y2="278.00" stroke="#333" stroke-width="0.7" />
<line x1="150.40" y1="284.00" x2="154.00" y2="284.00" stroke="#333" stroke-width="0.7" />
<polygon points="152.20,278.90 154.12,282.40 150.27,282.40" fill="#111"/>
<polygon points="41.00,328.07 42.75,330.17 41.00,332.27 39.25,330.17" fill="#111"/>
<polygon points="78.00,326.82 79.75,328.92 78.00,331.02 76.25,328.92" fill="#111"/>
<polygon points="114.60,324.73 116.35,326.83 114.60,328.93 112.85,326.83" fill="#111"/>
<polygon points="152.20,325.57 153.95,327.67 152.20,329.77 150.45,327.67" fill="#111"/>
<circle cx="41.00" cy="330.58" r="1.75" fill="#111"/>
<circle cx="78.00" cy="330.58" r="1.75" fill="#111"/>
<circle cx="114.60" cy="330.58" r="1.75" fill="#111"/>
<circle cx="152.20" cy="330.58" r="1.75" fill="#111"/>
<line x1="384.20" y1="224.70" x2="384.20" y2="334.40" stroke="#888" stroke-width="0.9" />
<line x1="384.20" y1="334.40" x2="516.00" y2="334.40" stroke="#888" stroke-width="0.9" />
<line x1="382.20" y1="334.40" x2="384.20" y2="334.40" stroke="#777" stroke-width="0.5" />
<text x="381.30" y="336.80" font-size="5.6" text-anchor="end" font-weight="normal" fill="#2a2a2a" letter-spacing="0.35">0</text>
<line x1="382.20" y1="322.22" x2="384.20" y2="322.22" stroke="#777" stroke-width="0.5" />
<text x="381.30" y="324.62" font-size="5.6" text-anchor="end" font-weight="normal" fill="#2a2a2a" letter-spacing="0.35">10</text>
<line x1="382.20" y1="310.04" x2="384.20" y2="310.04" stroke="#777" stroke-width="0.5" />
<text x="381.30" y="312.44" font-size="5.6" text-anchor="end" font-weight="normal" fill="#2a2a2a" letter-spacing="0.35">20</text>
<line x1="382.20" y1="297.86" x2="384.20" y2="297.86" stroke="#777" stroke-width="0.5" />
<text x="381.30" y="300.26" font-size="5.6" text-anchor="end" font-weight="normal" fill="#2a2a2a" letter-spacing="0.35">30</text>
<line x1="382.20" y1="285.68" x2="384.20" y2="285.68" stroke="#777" stroke-width="0.5" />
<text x="381.30" y="288.08" font-size="5.6" text-anchor="end" font-weight="normal" fill="#2a2a2a" letter-spacing="0.35">40</text>
<line x1="382.20" y1="273.50" x2="384.20" y2="273.50" stroke="#777" stroke-width="0.5" />
<text x="381.30" y="275.90" font-size="5.6" text-anchor="end" font-weight="normal" fill="#2a2a2a" letter-spacing="0.35">50</text>
<line x1="382.20" y1="261.32" x2="384.20" y2="261.32" stroke="#777" stroke-width="0.5" />
<text x="381.30" y="263.72" font-size="5.6" text-anchor="end" font-weight="normal" fill="#2a2a2a" letter-spacing="0.35">60</text>
<line x1="382.20" y1="249.14" x2="384.20" y2="249.14" stroke="#777" stroke-width="0.5" />
<text x="381.30" y="251.54" font-size="5.6" text-anchor="end" font-weight="normal" fill="#2a2a2a" letter-spacing="0.35">70</text>
<line x1="382.20" y1="236.96" x2="384.20" y2="236.96" stroke="#777" stroke-width="0.5" />
<text x="381.30" y="239.36" font-size="5.6" text-anchor="end" font-weight="normal" fill="#2a2a2a" letter-spacing="0.35">80</text>
<line x1="382.20" y1="224.78" x2="384.20" y2="224.78" stroke="#777" stroke-width="0.5" />
<text x="381.30" y="227.18" font-size="5.6" text-anchor="end" font-weight="normal" fill="#2a2a2a" letter-spacing="0.35">90</text>
<line x1="406.80" y1="334.40" x2="406.80" y2="335.90" stroke="#777" stroke-width="0.5" />
<line x1="451.40" y1="334.40" x2="451.40" y2="335.90" stroke="#777" stroke-width="0.5" />
<line x1="495.60" y1="334.40" x2="495.60" y2="335.90" stroke="#777" stroke-width="0.5" />
<text x="409.60" y="344.40" font-size="5.4" text-anchor="middle" font-weight="normal" fill="#2a2a2a" letter-spacing="0.7">10/1</text>
<text x="453.50" y="344.40" font-size="5.4" text-anchor="middle" font-weight="normal" fill="#2a2a2a" letter-spacing="0.7">5/1</text>
<text x="499.00" y="344.40" font-size="5.4" text-anchor="middle" font-weight="normal" fill="#2a2a2a" letter-spacing="0.7">2.5/1</text>
<text x="448.20" y="353.30" font-size="6.0" text-anchor="middle" font-weight="normal" fill="#2a2a2a" letter-spacing="0.3">Effector:Target ratio</text>
<text transform="translate(366.6,290.6) rotate(-90)" font-size="4.8" text-anchor="middle" fill="#333" letter-spacing="0.3">% YAC-1 cell lysis</text>
<polyline points="406.80,232.09 451.40,268.63 495.60,273.01" fill="none" stroke="#222" stroke-width="1.1" stroke-linejoin="round" />
<polyline points="406.80,273.50 451.40,279.59 495.60,294.21" fill="none" stroke="#222" stroke-width="1.1" stroke-linejoin="round" />
<polyline points="406.80,304.56 451.40,308.21 495.60,314.91" fill="none" stroke="#777" stroke-width="1.1" stroke-linejoin="round" />
<polyline points="406.80,305.17 451.40,308.82 495.60,316.13" fill="none" stroke="#555" stroke-width="1.1" stroke-linejoin="round" />
<polyline points="406.80,307.00 451.40,309.19 495.60,317.96" fill="none" stroke="#222" stroke-width="1.1" stroke-linejoin="round" />
<polyline points="406.80,313.69 451.40,313.08 495.60,322.22" fill="none" stroke="#222" stroke-width="1.1" stroke-linejoin="round" />
<polyline points="406.80,317.96 451.40,325.87 495.60,332.57" fill="none" stroke="#222" stroke-width="1.1" stroke-linejoin="round" />
<circle cx="406.80" cy="232.09" r="1.85" fill="#111"/>
<circle cx="451.40" cy="268.63" r="1.85" fill="#111"/>
<circle cx="495.60" cy="273.01" r="1.85" fill="#111"/>
<rect x="404.95" y="271.65" width="3.70" height="3.70" fill="#111"/>
<rect x="449.55" y="277.74" width="3.70" height="3.70" fill="#111"/>
<rect x="493.75" y="292.36" width="3.70" height="3.70" fill="#111"/>
<circle cx="406.80" cy="304.56" r="1.85" fill="#fff" stroke="#777" stroke-width="0.6"/>
<circle cx="451.40" cy="308.21" r="1.85" fill="#fff" stroke="#777" stroke-width="0.6"/>
<circle cx="495.60" cy="314.91" r="1.85" fill="#fff" stroke="#777" stroke-width="0.6"/>
<rect x="404.95" y="303.32" width="3.70" height="3.70" fill="#fff" stroke="#555" stroke-width="0.6"/>
<rect x="449.55" y="306.97" width="3.70" height="3.70" fill="#fff" stroke="#555" stroke-width="0.6"/>
<rect x="493.75" y="314.28" width="3.70" height="3.70" fill="#fff" stroke="#555" stroke-width="0.6"/>
<polygon points="406.80,304.77 408.84,308.48 404.76,308.48" fill="#111"/>
<polygon points="451.40,306.97 453.44,310.67 449.36,310.67" fill="#111"/>
<polygon points="495.60,315.74 497.64,319.44 493.56,319.44" fill="#111"/>
<polygon points="406.80,311.47 408.65,313.69 406.80,315.91 404.95,313.69" fill="#111"/>
<polygon points="451.40,310.86 453.25,313.08 451.40,315.31 449.55,313.08" fill="#111"/>
<polygon points="495.60,320.00 497.45,322.22 495.60,324.44 493.75,322.22" fill="#111"/>
<polygon points="406.80,315.74 408.84,319.44 404.76,319.44" fill="#fff" stroke="#222" stroke-width="0.6"/>
<polygon points="451.40,323.65 453.44,327.35 449.36,327.35" fill="#fff" stroke="#222" stroke-width="0.6"/>
<polygon points="495.60,330.35 497.64,334.05 493.56,334.05" fill="#fff" stroke="#222" stroke-width="0.6"/>
</svg></body></html>
